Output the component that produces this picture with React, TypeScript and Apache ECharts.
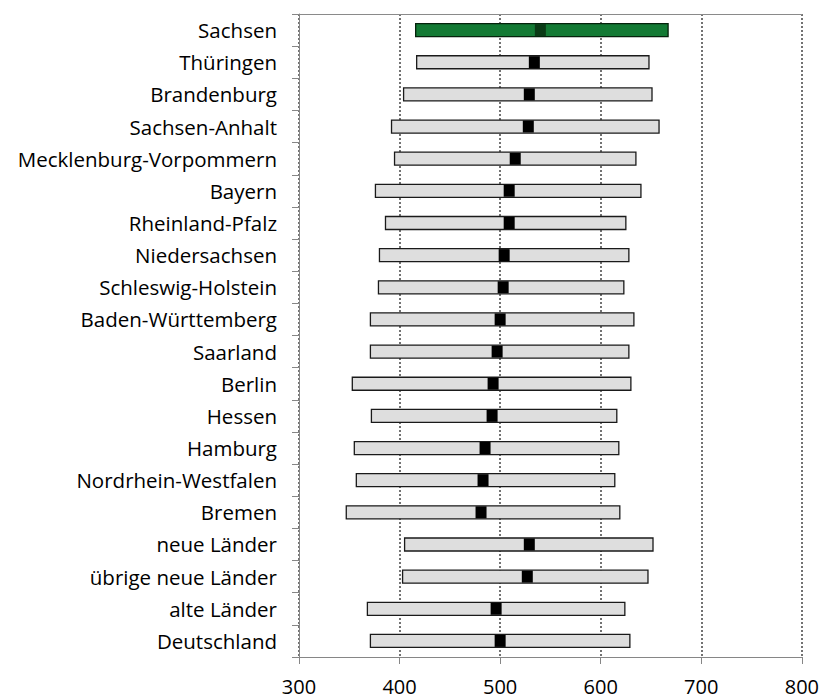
import React, { useEffect, useRef } from "react";
import * as echarts from "echarts";

const categories = [
  "Sachsen",
  "Thüringen",
  "Brandenburg",
  "Sachsen-Anhalt",
  "Mecklenburg-Vorpommern",
  "Bayern",
  "Rheinland-Pfalz",
  "Niedersachsen",
  "Schleswig-Holstein",
  "Baden-Württemberg",
  "Saarland",
  "Berlin",
  "Hessen",
  "Hamburg",
  "Nordrhein-Westfalen",
  "Bremen",
  "neue Länder",
  "übrige neue Länder",
  "alte Länder",
  "Deutschland",
];

const lowValues = [416, 417, 404, 392, 395, 376, 386, 380, 379, 371, 371, 353, 372, 355, 357, 347, 405, 403, 368, 371];
const highValues = [667, 648, 651, 658, 635, 640, 625, 628, 623, 633, 628, 630, 616, 618, 614, 619, 652, 647, 624, 629];
const meanValues = [540, 534, 529, 528, 515, 509, 509, 504, 503, 500, 497, 493, 492, 485, 483, 481, 529, 527, 496, 500];

const xTicks = [300, 400, 500, 600, 700, 800];
const highlighted = "Sachsen";

export default function App() {
  const ref = useRef<HTMLDivElement>(null);
  useEffect(() => {
    if (!ref.current) return;
    const chart = echarts.init(ref.current, null, { renderer: "svg" });
    const data = categories.map((c, i) => [i, lowValues[i], highValues[i], meanValues[i]]);
    const font = "Open Sans";
    chart.setOption({
      animation: false,
      backgroundColor: "#ffffff",
      grid: { left: 299, right: 18, top: 14, bottom: 41 },
      xAxis: [
        {
          type: "value",
          min: xTicks[0],
          max: xTicks[xTicks.length - 1],
          interval: 100,
          position: "bottom",
          axisLine: { show: true, lineStyle: { color: "#868686", width: 1 } },
          axisTick: { show: true, length: 7, lineStyle: { color: "#868686" } },
          axisLabel: { color: "#000", fontFamily: font, fontSize: 20, margin: 19 },
          splitLine: { show: true, lineStyle: { color: "#444", type: [2, 2], width: 1.5 } },
        },
        {
          type: "value",
          min: xTicks[0],
          max: xTicks[xTicks.length - 1],
          position: "top",
          axisLine: { show: true, onZero: false, lineStyle: { color: "#8a8a8a", width: 1.2, type: "solid" } },
          axisTick: { show: false },
          axisLabel: { show: false },
          splitLine: { show: false },
        },
      ],
      yAxis: {
        type: "category",
        data: categories,
        inverse: true,
        axisLine: { show: true, lineStyle: { color: "#868686", width: 1 } },
        axisTick: { show: true, length: 7, lineStyle: { color: "#868686" } },
        axisLabel: { color: "#000", fontFamily: font, fontSize: 20.5, margin: 22 },
        splitLine: { show: false },
      },
      series: [
        {
          type: "custom",
          xAxisIndex: 0,
          encode: { x: [1, 2, 3], y: 0 },
          data,
          renderItem: (params: any, api: any) => {
            const idx = api.value(0);
            const lo = api.coord([api.value(1), idx]);
            const hi = api.coord([api.value(2), idx]);
            const m = api.coord([api.value(3), idx]);
            const h = 13;
            const mw = 11;
            const isHi = categories[idx] === highlighted;
            return {
              type: "group",
              children: [
                {
                  type: "rect",
                  shape: { x: lo[0], y: lo[1] - h / 2, width: hi[0] - lo[0], height: h },
                  style: {
                    fill: isHi ? "#137a34" : "#dedede",
                    stroke: isHi ? "#05230c" : "#1a1a1a",
                    lineWidth: 1.3,
                  },
                },
                {
                  type: "rect",
                  shape: { x: m[0] - mw / 2, y: m[1] - h / 2 + 0.5, width: mw, height: h - 1 },
                  style: { fill: isHi ? "#0a3a16" : "#000000" },
                },
              ],
            };
          },
        },
      ],
    });
    return () => chart.dispose();
  }, []);
  return (
    <div
      ref={ref}
      style={{ position: "fixed", left: 0, top: 0, width: 822, height: 698 }}
    />
  );
}
